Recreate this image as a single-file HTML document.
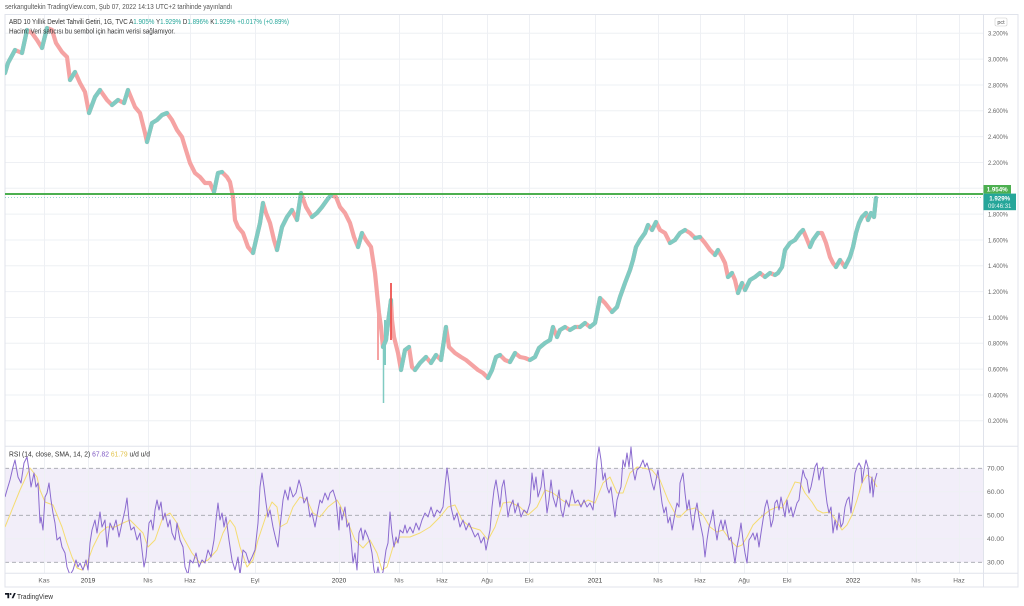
<!DOCTYPE html>
<html><head><meta charset="utf-8">
<style>
html,body{margin:0;padding:0;background:#fff;}
svg{display:block;font-family:"Liberation Sans",sans-serif;}
</style></head>
<body>
<svg width="1024" height="606" viewBox="0 0 1024 606" xmlns="http://www.w3.org/2000/svg">
<rect x="0" y="0" width="1024" height="606" fill="#fff"/>
<defs>
<clipPath id="rc"><rect x="5" y="446.5" width="978" height="126.5"/></clipPath>
<clipPath id="pc"><rect x="5" y="14.5" width="978" height="431.5"/></clipPath>
</defs>
<!-- RSI band fill -->
<rect x="5" y="468.3" width="978" height="94" fill="#f2eef9"/>
<!-- grid -->
<g stroke="#eef0f4" stroke-width="1">
<line x1="44.5" y1="14.5" x2="44.5" y2="573"/>
<line x1="88.5" y1="14.5" x2="88.5" y2="573"/>
<line x1="148.5" y1="14.5" x2="148.5" y2="573"/>
<line x1="190.5" y1="14.5" x2="190.5" y2="573"/>
<line x1="255.5" y1="14.5" x2="255.5" y2="573"/>
<line x1="339.5" y1="14.5" x2="339.5" y2="573"/>
<line x1="399.5" y1="14.5" x2="399.5" y2="573"/>
<line x1="442.5" y1="14.5" x2="442.5" y2="573"/>
<line x1="487.5" y1="14.5" x2="487.5" y2="573"/>
<line x1="529.5" y1="14.5" x2="529.5" y2="573"/>
<line x1="595.5" y1="14.5" x2="595.5" y2="573"/>
<line x1="658.5" y1="14.5" x2="658.5" y2="573"/>
<line x1="700.5" y1="14.5" x2="700.5" y2="573"/>
<line x1="744.5" y1="14.5" x2="744.5" y2="573"/>
<line x1="787.5" y1="14.5" x2="787.5" y2="573"/>
<line x1="853.5" y1="14.5" x2="853.5" y2="573"/>
<line x1="916.5" y1="14.5" x2="916.5" y2="573"/>
<line x1="959.5" y1="14.5" x2="959.5" y2="573"/>
<line x1="5" y1="33.3" x2="983" y2="33.3"/>
<line x1="5" y1="59.1" x2="983" y2="59.1"/>
<line x1="5" y1="85" x2="983" y2="85"/>
<line x1="5" y1="110.8" x2="983" y2="110.8"/>
<line x1="5" y1="136.6" x2="983" y2="136.6"/>
<line x1="5" y1="162.5" x2="983" y2="162.5"/>
<line x1="5" y1="188.3" x2="983" y2="188.3"/>
<line x1="5" y1="214.1" x2="983" y2="214.1"/>
<line x1="5" y1="240" x2="983" y2="240"/>
<line x1="5" y1="265.8" x2="983" y2="265.8"/>
<line x1="5" y1="291.6" x2="983" y2="291.6"/>
<line x1="5" y1="317.5" x2="983" y2="317.5"/>
<line x1="5" y1="343.3" x2="983" y2="343.3"/>
<line x1="5" y1="369.1" x2="983" y2="369.1"/>
<line x1="5" y1="395" x2="983" y2="395"/>
<line x1="5" y1="420.8" x2="983" y2="420.8"/>
<line x1="5" y1="491.8" x2="983" y2="491.8"/>
<line x1="5" y1="538.8" x2="983" y2="538.8"/>
</g>
<!-- RSI dashed levels -->
<g stroke="#a3a5ad" stroke-width="0.8" stroke-dasharray="4,3">
<line x1="5" y1="468.3" x2="983" y2="468.3"/>
<line x1="5" y1="515.3" x2="983" y2="515.3"/>
<line x1="5" y1="562.3" x2="983" y2="562.3"/>
</g>
<!-- frame -->
<g stroke="#e0e3eb" stroke-width="1" fill="none">
<rect x="5" y="14.5" width="1013" height="572.5"/>
<line x1="983.5" y1="14.5" x2="983.5" y2="587"/>
<line x1="5" y1="446.3" x2="1018" y2="446.3"/>
<line x1="5" y1="573.3" x2="1018" y2="573.3"/>
</g>
<!-- price series -->
<g clip-path="url(#pc)" fill="none" stroke-linejoin="round" stroke-linecap="round">
<path stroke="#f5a3a3" stroke-width="4.2" d="M5 73L8 63L15 50L22 53L27 30L32 33L37 40L42 48L47 28L52 30L56 43L62 52L67 57L70 80L75 72L80 83L85 92L89 113L95 97L100 90L107 100L112 105L118 100L124 103L128 90L135 107L140 113L145 133L147 142L152 123L157 120L162 115L167 113L172 120L177 130L182 137L185 147L190 163L195 173L200 177L205 183L210 183L214 192L218 173L222 172L227 177L230 182L233 197L235 220L238 227L243 233L248 247L253 253L256 240L260 223L263 203L266 213L270 223L274 240L277 250L282 227L287 217L292 210L297 220L301 193L306 207L312 217L317 213L322 207L327 200L331 195L336 197L340 207L345 213L350 223L354 237L358 247L362 233L366 240L371 247L373 260L375 273L377 293L379 313L381 327L383 347L386 340L388 323L391 300L392 320L394 337L398 353L401 370L405 350L409 347L412 367L415 370L420 363L426 357L431 363L436 355L441 360L446 327L449 347L455 353L461 357L466 360L472 365L478 370L483 373L488 378L492 370L496 357L500 355L505 360L510 362L515 353L520 357L525 358L530 360L535 357L539 348L545 343L550 340L553 327L557 337L560 330L565 327L570 330L575 327L580 327L585 323L590 327L595 323L597 313L600 298L605 303L612 312L617 307L620 297L625 283L630 270L633 260L636 247L640 240L645 233L648 225L652 230L656 222L660 230L665 233L670 243L675 240L680 233L685 230L690 233L695 238L700 237L705 243L710 250L715 255L718 250L722 257L725 263L728 277L732 273L735 280L738 293L742 283L745 290L750 280L755 277L760 273L765 277L770 273L775 275L778 273L782 267L785 250L790 243L795 240L800 233L803 230L806 237L810 247L813 240L818 233L822 233L826 243L830 257L833 263L836 267L840 260L845 267L850 257L853 247L856 233L859 223L862 217L866 213L868 220L871 213L874 217L876 198"/>
<path stroke="#80cbc2" stroke-width="4.2" d="M5 73L8 63L15 50M22 53L27 30M42 48L47 28M70 80L75 72M89 113L95 97L100 90M112 105L118 100M124 103L128 90M147 142L152 123L157 120L162 115L167 113M214 192L218 173L222 172M253 253L256 240L260 223L263 203M277 250L282 227L287 217L292 210M297 220L301 193M312 217L317 213L322 207L327 200L331 195M358 247L362 233M383 347L386 340L388 323L391 300M401 370L405 350L409 347M415 370L420 363L426 357M431 363L436 355M441 360L446 327M488 378L492 370L496 357L500 355M510 362L515 353M530 360L535 357L539 348L545 343L550 340L553 327M557 337L560 330L565 327M570 330L575 327M580 327L585 323M590 327L595 323L597 313L600 298M612 312L617 307L620 297L625 283L630 270L633 260L636 247L640 240L645 233L648 225M652 230L656 222M670 243L675 240L680 233L685 230M695 238L700 237M715 255L718 250M728 277L732 273M738 293L742 283M745 290L750 280L755 277L760 273M765 277L770 273M775 275L778 273L782 267L785 250L790 243L795 240L800 233L803 230M810 247L813 240L818 233M836 267L840 260M845 267L850 257L853 247L856 233L859 223L862 217L866 213M868 220L871 213M874 217L876 198"/>
<line x1="383.5" y1="345" x2="383.5" y2="403" stroke="#80cbc2" stroke-width="1.5" stroke-linecap="butt"/>
<line x1="391" y1="283" x2="391" y2="340" stroke="#ef5350" stroke-width="1.8" stroke-linecap="butt"/>
<line x1="378" y1="300" x2="378" y2="360" stroke="#f5a3a3" stroke-width="2" stroke-linecap="butt"/>
<line x1="385" y1="320" x2="385" y2="365" stroke="#80cbc2" stroke-width="2" stroke-linecap="butt"/>
</g>
<!-- horizontal green level -->
<line x1="5" y1="194" x2="983" y2="194" stroke="#4caf50" stroke-width="2"/>
<line x1="5" y1="197.6" x2="983" y2="197.6" stroke="#26a69a" stroke-width="0.8" stroke-dasharray="1,2" opacity="0.6"/>
<!-- RSI -->
<g clip-path="url(#rc)" fill="none" stroke-linejoin="round">
<path stroke="#f5dc72" stroke-width="1" d="M5 527L20 490L30 468L37 477L40 490L45 502L53 505L62 527L67 543L72 557L77 568L82 570L87 563L93 547L100 533L107 527L115 527L123 523L130 520L137 527L143 533L148 547L155 540L163 517L170 513L177 523L183 537L192 553L200 563L208 560L217 550L223 533L230 520L235 527L240 547L247 567L253 560L258 540L267 513L272 502L277 507L280 527L287 523L293 507L300 497L307 500L313 513L320 517L328 507L337 500L340 505L347 520L355 540L363 548L370 540L377 553L382 570L387 567L393 547L400 537L410 537L420 533L430 527L440 517L448 507L455 505L462 520L470 527L480 530L488 540L495 527L503 503L510 502L520 507L528 515L537 507L545 490L553 493L562 500L570 505L580 505L588 500L595 503L603 483L610 477L617 493L623 493L630 473L637 467L643 468L652 470L660 480L668 500L677 517L680 517L687 510L695 508L703 515L710 527L717 532L723 530L730 540L737 547L742 545L747 537L753 525L760 518L770 510L777 507L782 508L788 497L795 482L800 483L805 493L812 502L817 510L823 513L830 512L837 522L842 530L847 525L852 515L857 500L862 483L867 475L872 478L877 487"/>
<path stroke="#8b6bcf" stroke-width="1" d="M5 497L7 490L10 480L13 467L15 460L18 477L21 483L24 463L27 457L29 470L31 487L34 473L36 487L38 483L40 523L41 517L43 530L45 497L47 493L49 483L51 500L53 513L55 523L57 540L60 537L62 547L65 553L67 567L70 575L73 570L76 560L78 567L80 563L83 570L86 560L88 570L90 543L92 530L95 520L97 533L100 512L102 527L105 520L107 547L110 523L113 530L116 520L119 537L122 523L125 510L127 498L129 520L131 530L134 527L137 540L140 533L142 550L144 567L146 557L149 523L151 520L153 530L155 510L157 500L159 510L161 502L163 520L165 513L168 527L170 520L172 533L175 540L177 523L180 540L183 547L185 567L188 575L190 560L193 563L196 553L199 567L202 560L205 563L208 550L211 557L214 540L216 520L218 503L220 520L222 513L224 527L226 517L229 540L232 560L235 570L238 557L240 575L243 550L246 553L249 563L252 557L255 550L258 523L260 487L262 473L264 487L266 503L268 517L270 510L273 527L276 540L278 547L280 527L283 500L285 490L288 500L290 487L293 497L296 493L299 480L301 487L304 503L307 497L310 517L312 513L315 527L318 510L320 500L322 503L325 493L328 500L330 493L333 490L336 500L339 530L340 507L342 520L345 507L347 527L349 523L351 540L353 563L355 553L357 570L359 533L361 528L363 540L365 530L368 537L370 543L372 553L374 570L376 578L378 567L380 578L383 572L386 550L388 543L390 512L392 533L394 547L396 537L398 543L400 530L403 533L405 525L407 533L410 527L413 533L416 523L419 530L422 520L425 513L428 517L431 507L434 517L437 510L440 513L443 507L445 487L447 468L449 483L451 507L454 520L457 513L460 527L463 520L466 530L469 523L472 530L475 537L478 533L481 543L484 537L486 550L488 540L490 530L492 507L494 490L496 480L498 493L500 507L502 487L504 480L506 497L508 517L510 507L513 500L515 513L518 503L521 517L524 510L527 513L530 503L532 473L534 490L536 477L538 497L541 487L543 470L545 490L547 513L549 500L551 480L553 497L556 507L559 490L561 510L563 517L566 500L569 507L572 490L575 503L578 500L581 507L584 500L587 507L590 503L593 510L595 490L597 460L599 447L601 460L603 480L605 473L607 487L609 493L611 487L613 503L615 517L617 500L619 493L621 487L623 460L625 467L627 453L629 467L631 447L633 470L635 480L637 470L640 467L643 460L645 467L647 463L650 473L652 483L654 490L656 480L658 470L660 487L662 503L664 513L666 507L668 523L670 517L672 530L675 513L677 503L679 507L680 483L683 473L685 493L687 510L689 500L691 517L693 530L695 513L697 503L699 517L701 527L703 537L705 557L707 540L709 527L711 520L713 510L715 527L717 540L719 527L721 520L723 530L725 520L727 530L729 540L731 537L733 550L735 563L737 547L739 537L741 523L743 540L745 553L747 563L749 540L751 537L753 533L755 540L757 533L759 547L761 533L763 520L765 507L767 500L769 510L771 527L773 520L775 503L777 500L779 510L781 497L783 507L785 517L787 500L789 513L791 507L793 517L795 510L797 503L799 500L801 483L803 470L805 477L807 480L809 493L811 487L813 477L815 467L817 463L819 480L821 470L823 467L825 487L827 503L829 513L831 507L833 533L835 520L837 530L839 513L841 527L843 523L845 507L847 500L849 497L851 513L853 493L855 473L857 467L859 463L861 467L862 483L864 470L866 460L868 467L870 493L872 477L873 497L875 480L877 473"/>
</g>

<!-- header texts -->
<text x="5" y="9" font-size="7" fill="#555" textLength="227" lengthAdjust="spacingAndGlyphs">serkangultekin TradingView.com, Şub 07, 2022 14:13 UTC+2 tarihinde yayınlandı</text>
<text x="9" y="24" font-size="7" fill="#333" textLength="280" lengthAdjust="spacingAndGlyphs">ABD 10 Yıllık Devlet Tahvili Getiri, 1G, TVC  A<tspan fill="#26a69a">1.905%</tspan>  Y<tspan fill="#26a69a">1.929%</tspan>  D<tspan fill="#26a69a">1.896%</tspan>  K<tspan fill="#26a69a">1.929%</tspan>  <tspan fill="#26a69a">+0.017% (+0.89%)</tspan></text>
<text x="9" y="33.5" font-size="7" fill="#333" textLength="166" lengthAdjust="spacingAndGlyphs">Hacim: Veri satıcısı bu sembol için hacim verisi sağlamıyor.</text>
<text x="9" y="456.5" font-size="7" fill="#333" textLength="141" lengthAdjust="spacingAndGlyphs">RSI (14, close, SMA, 14, 2)  <tspan fill="#7e57c2">67.82</tspan>  <tspan fill="#e2c24a">61.79</tspan>  u/d  u/d</text>

<!-- pct box -->
<rect x="995" y="18" width="12" height="8" rx="1.5" fill="#fff" stroke="#ccc" stroke-width="0.6"/>
<text x="1001" y="24.2" font-size="5.5" fill="#555" text-anchor="middle">pct</text>

<!-- price axis labels -->
<g font-size="6.5" fill="#666">
<text x="988" y="35.5" textLength="20" lengthAdjust="spacingAndGlyphs">3.200%</text>
<text x="988" y="61.4" textLength="20" lengthAdjust="spacingAndGlyphs">3.000%</text>
<text x="988" y="87.3" textLength="20" lengthAdjust="spacingAndGlyphs">2.800%</text>
<text x="988" y="113.1" textLength="20" lengthAdjust="spacingAndGlyphs">2.600%</text>
<text x="988" y="138.9" textLength="20" lengthAdjust="spacingAndGlyphs">2.400%</text>
<text x="988" y="164.8" textLength="20" lengthAdjust="spacingAndGlyphs">2.200%</text>
<text x="988" y="216.5" textLength="20" lengthAdjust="spacingAndGlyphs">1.800%</text>
<text x="988" y="242.3" textLength="20" lengthAdjust="spacingAndGlyphs">1.600%</text>
<text x="988" y="268.2" textLength="20" lengthAdjust="spacingAndGlyphs">1.400%</text>
<text x="988" y="294" textLength="20" lengthAdjust="spacingAndGlyphs">1.200%</text>
<text x="988" y="319.9" textLength="20" lengthAdjust="spacingAndGlyphs">1.000%</text>
<text x="988" y="345.7" textLength="20" lengthAdjust="spacingAndGlyphs">0.800%</text>
<text x="988" y="371.5" textLength="20" lengthAdjust="spacingAndGlyphs">0.600%</text>
<text x="988" y="397.4" textLength="20" lengthAdjust="spacingAndGlyphs">0.400%</text>
<text x="988" y="423.2" textLength="20" lengthAdjust="spacingAndGlyphs">0.200%</text>
</g>
<!-- price tags -->
<rect x="983.5" y="185" width="27.5" height="8.6" fill="#4caf50"/>
<text x="997.2" y="191.5" font-size="6.2" font-weight="bold" fill="#fff" text-anchor="middle">1.954%</text>
<rect x="983.5" y="193.6" width="32.5" height="16.6" fill="#26a69a"/>
<text x="999.7" y="200.6" font-size="6.2" font-weight="bold" fill="#fff" text-anchor="middle">1.929%</text>
<text x="999.7" y="208" font-size="6" fill="#e8f6f4" text-anchor="middle">09:46:31</text>

<!-- RSI axis labels -->
<g font-size="6.5" fill="#666">
<text x="987" y="470.5" textLength="17" lengthAdjust="spacingAndGlyphs">70.00</text>
<text x="987" y="494" textLength="17" lengthAdjust="spacingAndGlyphs">60.00</text>
<text x="987" y="517.5" textLength="17" lengthAdjust="spacingAndGlyphs">50.00</text>
<text x="987" y="541" textLength="17" lengthAdjust="spacingAndGlyphs">40.00</text>
<text x="987" y="564.5" textLength="17" lengthAdjust="spacingAndGlyphs">30.00</text>
</g>

<!-- time axis labels -->
<g font-size="6.5" fill="#666" text-anchor="middle">
<text x="44" y="582.5">Kas</text>
<text x="88" y="582.5" fill="#333">2019</text>
<text x="148" y="582.5">Nis</text>
<text x="190" y="582.5">Haz</text>
<text x="255" y="582.5">Eyl</text>
<text x="339" y="582.5" fill="#333">2020</text>
<text x="399" y="582.5">Nis</text>
<text x="442" y="582.5">Haz</text>
<text x="487" y="582.5">Ağu</text>
<text x="529" y="582.5">Eki</text>
<text x="595" y="582.5" fill="#333">2021</text>
<text x="658" y="582.5">Nis</text>
<text x="700" y="582.5">Haz</text>
<text x="744" y="582.5">Ağu</text>
<text x="787" y="582.5">Eki</text>
<text x="853" y="582.5" fill="#333">2022</text>
<text x="916" y="582.5">Nis</text>
<text x="959" y="582.5">Haz</text>
</g>

<!-- TradingView logo -->
<path d="M5 593h4.2v5.2h-1.8v-3.4h-2.4z" fill="#131722"/>
<circle cx="10.6" cy="594" r="0.95" fill="#131722"/>
<path d="M11.6 598.2l2.4-5.2h1.8l-2.4 5.2z" fill="#131722"/>
<text x="17" y="598.8" font-size="7.5" fill="#333" textLength="36" lengthAdjust="spacingAndGlyphs">TradingView</text>
</svg>
</body></html>
